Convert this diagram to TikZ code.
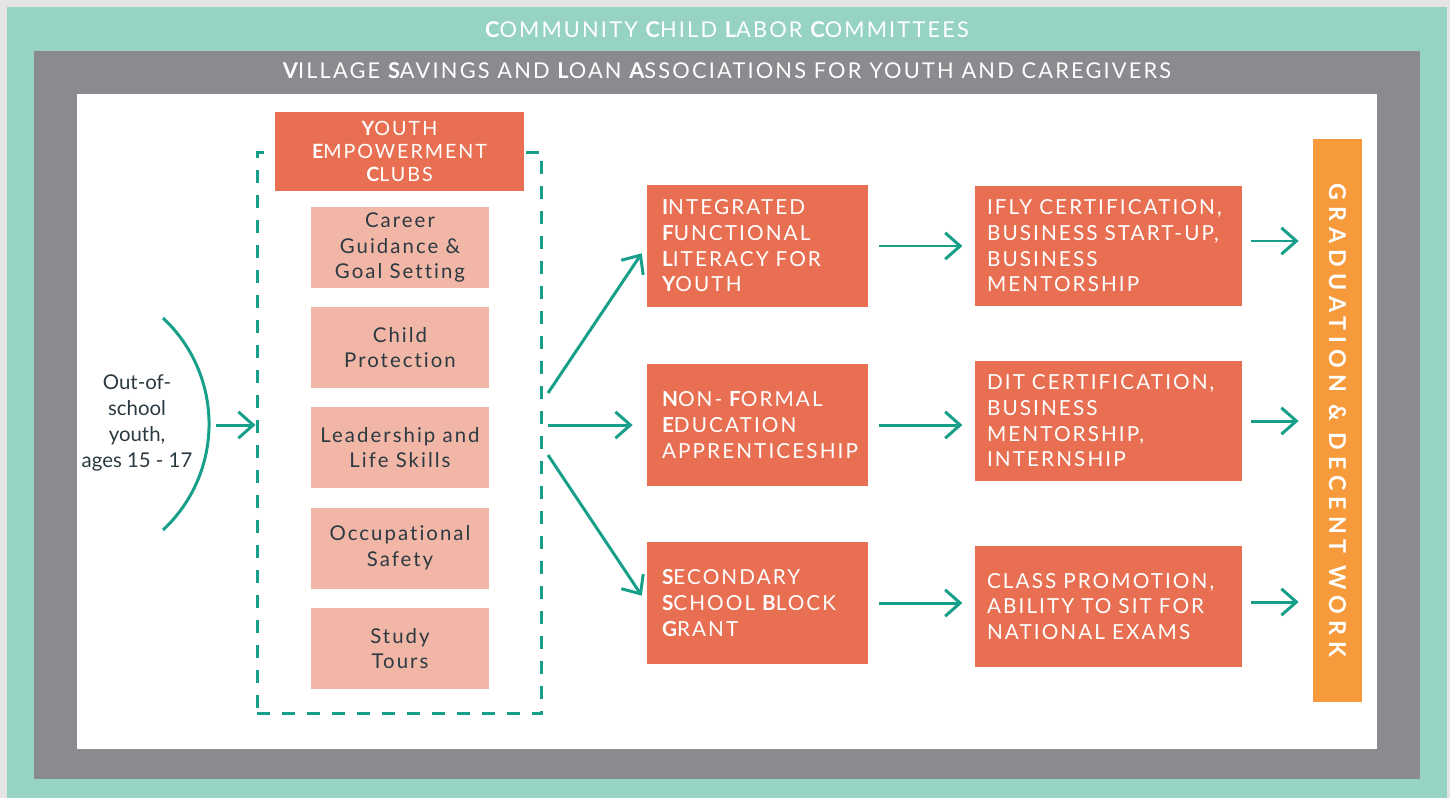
\documentclass[tikz,border=0pt]{standalone}
\usepackage{fontspec}
\setmainfont{Lato}[Ligatures=NoCommon]
\newfontfamily\spaced[LetterSpace=10,Ligatures=NoCommon]{Lato}
\newfontfamily\gradfont[LetterSpace=26]{Lato}
\usetikzlibrary{arrows.meta,positioning}
\definecolor{pagegray}{HTML}{E4E4E4}
\definecolor{cclcteal}{HTML}{96D3C4}
\definecolor{vslagray}{HTML}{8A8B8E}
\definecolor{progorange}{HTML}{E86F52}
\definecolor{clubsalmon}{HTML}{F2B6A6}
\definecolor{gradorange}{HTML}{F79A3B}
\definecolor{flowteal}{HTML}{179F8A}
\definecolor{inkdark}{HTML}{2B3A42}
\newcommand{\ini}[1]{{\bfseries #1}}
\tikzset{
  banner/.style={text=white,inner sep=0pt,font=\spaced\fontsize{12.4}{15}\selectfont},
  clubhead/.style={fill=progorange,text=white,align=center,minimum width=4.98cm,minimum height=1.58cm,inner sep=0pt,font=\spaced\fontsize{11.2}{13}\selectfont},
  clubbox/.style={fill=clubsalmon,text=inkdark,align=center,minimum width=3.56cm,minimum height=1.62cm,inner sep=0pt,font=\spaced\fontsize{11.6}{14.6}\selectfont},
  progbox/.style={fill=progorange,text=white,align=left,text width=3.82cm,inner xsep=0.3cm,minimum height=2.44cm,font=\spaced\fontsize{11.8}{14.6}\selectfont},
  outbox/.style={fill=progorange,text=white,align=left,text width=4.86cm,inner xsep=0.24cm,minimum height=2.42cm,font=\spaced\fontsize{11.8}{14.6}\selectfont},
  gradbox/.style={fill=gradorange,text=white,minimum width=0.98cm,minimum height=11.26cm,inner sep=0pt,font=\gradfont\bfseries\fontsize{13.2}{14}\selectfont},
  flow/.style={draw=flowteal,line width=1.7pt,-{Straight Barb[length=8.5pt,width=15pt]}},
}

\begin{document}
\begin{tikzpicture}[x=0.02cm,y=-0.02cm]
\useasboundingbox (0,0) rectangle (1450,798);
% nested frames
\fill[pagegray] (0,0) rectangle (1450,798);
\fill[cclcteal] (7,7) rectangle (1447,798);
\fill[vslagray] (34,51) rectangle (1420,779);
\fill[white] (77,94) rectangle (1377,749);
\node (cclc) [banner] at (727,30) {\ini{C}OMMUNITY \ini{C}HILD \ini{L}ABOR \ini{C}OMMITTEES};
\node (vsla) [banner] at (727,71) {\ini{V}ILLAGE \ini{S}AVINGS AND \ini{L}OAN \ini{A}SSOCIATIONS FOR YOUTH AND CAREGIVERS};
%
\node (youth) [align=center,text=inkdark,font=\fontsize{11.6}{14.7}\selectfont] at (137,423) {Out-of-\\school\\youth,\\ages 15 - 17};
\draw[flowteal,line width=1.7pt] (163,318) .. controls (224.4,375.4) and (224.4,472.6) .. (163,530);
\coordinate (bend) at (209,425);
%
\node (clubs) [draw=flowteal,line width=1.7pt,dash pattern=on 0.26cm off 0.24cm,minimum width=5.7cm,minimum height=11.24cm] at (399.5,433) {};
\node (yec) [clubhead] at (399.5,151.5) {\ini{Y}OUTH\\\ini{E}MPOWERMENT\\\ini{C}LUBS};
\node (career) [clubbox] at (400,247.5) {Career\\Guidance \&\\Goal Setting};
\node (protect) [clubbox] at (400,347.5) {Child\\Protection};
\node (lead) [clubbox] at (400,447.5) {Leadership and\\Life Skills};
\node (safety) [clubbox] at (400,548) {Occupational\\Safety};
\node (tours) [clubbox] at (400,648.5) {Study\\Tours};
%
\node (ifly) [progbox] at (757.5,246) {\ini{I}NTEGRATED\\\ini{F}UNCTIONAL\\\ini{L}ITERACY FOR\\\ini{Y}OUTH};
\node (nfe) [progbox] at (757.5,425) {\ini{N}ON- \ini{F}ORMAL\\\ini{E}DUCATION\\APPRENTICESHIP};
\node (ssbg) [progbox] at (757.5,603) {\ini{S}ECONDARY\\\ini{S}CHOOL \ini{B}LOCK\\\ini{G}RANT};
%
\node (iflyout) [outbox] at (1108.5,246) {IFLY CERTIFICATION,\\BUSINESS START-UP,\\BUSINESS\\MENTORSHIP};
\node (nfeout) [outbox] at (1108.5,421) {DIT CERTIFICATION,\\BUSINESS\\MENTORSHIP,\\INTERNSHIP};
\node (ssbgout) [outbox] at (1108.5,606.5) {CLASS PROMOTION,\\ABILITY TO SIT FOR\\NATIONAL EXAMS};
%
\node (grad) [gradbox] at (1337.5,420.5) {\rotatebox{-90}{GRADUATION \& DECENT WORK}};
%
\coordinate (fork1) at (548,393);
\coordinate (fork2) at (548,425);
\coordinate (fork3) at (548,455);
\draw[flow,shorten <=4pt] (bend) -- (clubs.west |- bend);
\draw[flow,shorten >=5pt] (fork1) -- (ifly.west);
\draw[flow,shorten >=8pt] (fork2) -- (nfe.west);
\draw[flow,shorten >=5pt] (fork3) -- (ssbg.west);
%
\draw[flow,shorten <=6pt,shorten >=7pt] (ifly.east) -- (ifly.east -| iflyout.west);
\draw[flow,shorten <=6pt,shorten >=7pt] (nfe.east) -- (nfe.east -| nfeout.west);
\draw[flow,shorten <=6pt,shorten >=7pt] (ssbg.east) -- (ssbg.east -| ssbgout.west);
\draw[flow,shorten <=5pt,shorten >=8pt] ([yshift=0.1cm]iflyout.east) -- ([yshift=0.1cm]iflyout.east -| grad.west);
\draw[flow,shorten <=5pt,shorten >=8pt] (nfeout.east) -- (nfeout.east -| grad.west);
\draw[flow,shorten <=5pt,shorten >=8pt] ([yshift=0.09cm]ssbgout.east) -- ([yshift=0.09cm]ssbgout.east -| grad.west);
\end{tikzpicture}
\end{document}
